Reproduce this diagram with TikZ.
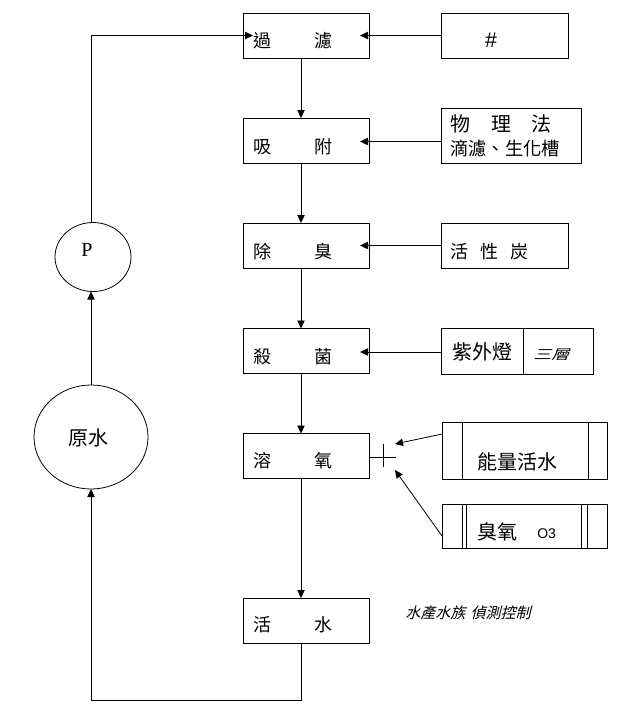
\documentclass[tikz,border=0pt]{standalone}
\usepackage{fontspec}
\newfontfamily\cjk{Noto Sans CJK TC}
\newfontfamily\cjkit[FakeSlant=0.25]{Noto Sans CJK TC}
\newfontfamily\sansf{Liberation Sans}
\newfontfamily\seriff{Liberation Serif}
\usetikzlibrary{shapes.geometric,arrows.meta,calc}
\tikzset{
  ln/.style={line width=0.6pt},
  arr/.style={ln,-{Triangle[length=6pt,width=5.5pt]}},
  boxn/.style={draw,ln,rectangle,inner sep=0pt,outer sep=0pt},
  mainbox/.style={boxn,minimum width=94.5pt,minimum height=33.75pt},
  oval/.style={draw,ln,ellipse,inner sep=0pt,outer sep=0pt},
  lbl/.style={anchor=west,inner sep=0pt,font=\cjk\fontsize{13.5}{14}\selectfont},
}
\begin{document}
\begin{tikzpicture}[x=0.75pt,y=-0.75pt]
\useasboundingbox (0,0) rectangle (628,714);
\coordinate (vx) at (301,0);
% main boxes
\node[mainbox] (b1) at (306,35.5) {};
\node[mainbox] (b2) at (306,140.5) {};
\node[mainbox] (b3) at (306,245.5) {};
\node[mainbox] (b4) at (306,351) {};
\node[mainbox] (b5) at (306,456) {};
\node[mainbox] (b6) at (306,620.5) {};
\node[lbl] (l1) at (253,41) {過\hspace{32.25pt}濾};
\node[lbl] (l2) at (253,147) {吸\hspace{32.25pt}附};
\node[lbl] (l3) at (253,252) {除\hspace{32.25pt}臭};
\node[lbl] (l4) at (253,357) {殺\hspace{32.25pt}菌};
\node[lbl] (l5) at (253,461) {溶\hspace{32.25pt}氧};
\node[lbl] (l6) at (253,625) {活\hspace{32.25pt}水};
% right boxes
\node[boxn,minimum width=95.25pt,minimum height=33.75pt] (r1) at (504.5,35.5) {};
\node[anchor=center,inner sep=0pt,font=\sansf\fontsize{16}{17}\selectfont] (l7) at (491,40) {\#};
\node[boxn,minimum width=105pt,minimum height=41.25pt] (r2) at (511,135.5) {};
\node[lbl,font=\cjk\fontsize{15}{16}\selectfont] (l8) at (450,124) {物\hspace{15.75pt}理\hspace{15pt}法};
\node[lbl,font=\cjk\fontsize{13.7}{14}\selectfont] (l9) at (450,149) {滴濾、生化槽};
\node[boxn,minimum width=95.25pt,minimum height=33.75pt] (r3) at (504.5,245.5) {};
\node[lbl] (l10) at (450,252) {活\hspace{9pt}性\hspace{9pt}炭};
\node[boxn,minimum width=114pt,minimum height=34.5pt] (r4) at (517,351) {};
\draw[ln] (r4.north -| 523,0) -- (r4.south -| 523,0);
\node[lbl,font=\cjk\fontsize{15}{16}\selectfont] (l11) at (452,352) {紫外燈};
\node[lbl,font=\cjkit\fontsize{10}{11}\selectfont] (l12) at (533,355) {\scalebox{1.35}[1]{三層}};
\node[boxn,minimum width=123.75pt,minimum height=42.75pt] (r5) at (524.5,450.5) {};
\draw[ln] (r5.north -| 462,0) -- (r5.south -| 462,0);
\draw[ln] (r5.north -| 588,0) -- (r5.south -| 588,0);
\node[lbl,font=\cjk\fontsize{15}{16}\selectfont] (l13) at (477,462) {能量活水};
\node[boxn,minimum width=123.75pt,minimum height=33pt] (r6) at (524.5,526) {};
\foreach \xx in {462,466,581,587} \draw[ln] (r6.north -| \xx,0) -- (r6.south -| \xx,0);
\node[lbl,font=\cjk\fontsize{15}{16}\selectfont] (l14) at (477,532) {臭氧};
\node[anchor=west,inner sep=0pt,font=\sansf\fontsize{10.5}{11}\selectfont] (l15) at (537,534) {O3};
% note
\node[lbl,font=\cjkit\fontsize{11.25}{12}\selectfont] (l16) at (405,613) {水產水族\hspace{4pt}偵測控制};
% left loop
\node[oval,minimum width=57pt,minimum height=51.75pt] (pn) at (93,257) {};
\node[anchor=center,inner sep=0pt,font=\seriff\fontsize{15}{16}\selectfont] (l17) at (87,250) {P};
\node[oval,minimum width=85.5pt,minimum height=78pt] (raw) at (91,437) {};
\node[anchor=center,inner sep=0pt,font=\cjk\fontsize{15}{16}\selectfont] (l18) at (88,438) {原水};
% vertical chain
\draw[arr] (b1.south -| vx) -- (b2.north -| vx);
\draw[arr] (b2.south -| vx) -- (b3.north -| vx);
\draw[arr] (b3.south -| vx) -- (b4.north -| vx);
\draw[arr] (b4.south -| vx) -- (b5.north -| vx);
\draw[arr] (b5.south -| vx) -- (b6.north -| vx);
% horizontal inputs
\coordinate (t1) at (360,35.5);
\coordinate (t2) at (360,141.5);
\coordinate (t3) at (360,245.5);
\coordinate (t4) at (360,352);
\draw[arr] (r1.west) -- (t1);
\draw[arr] (r2.west |- t2) -- (t2);
\draw[arr] (r3.west) -- (t3);
\draw[arr] (r4.west |- t4) -- (t4);
% plus sign
\coordinate (pc) at (383,457);
\draw[ln] (b5.east |- pc) -- (396,457);
\draw[ln] (383,444) -- (383,467);
\coordinate (pa) at (395,444);
\coordinate (pb) at (395,470);
\draw[arr] ($(r5.west)+(0,-16.5)$) -- (pa);
\draw[arr] ($(r6.west)+(0,10)$) -- (pb);
% loop
\coordinate (c1) at (301,700);
\coordinate (c2) at (91,700);
\coordinate (c3) at (91,35.5);
\coordinate (t0) at (253,35.5);
\draw[arr] (b6.south -| vx) -- (c1) -- (c2) -- (raw.south);
\draw[arr] (raw.north) -- (raw.north |- pn.south);
\draw[arr] (raw.north |- pn.north) -- (c3) -- (t0);
\end{tikzpicture}
\end{document}
